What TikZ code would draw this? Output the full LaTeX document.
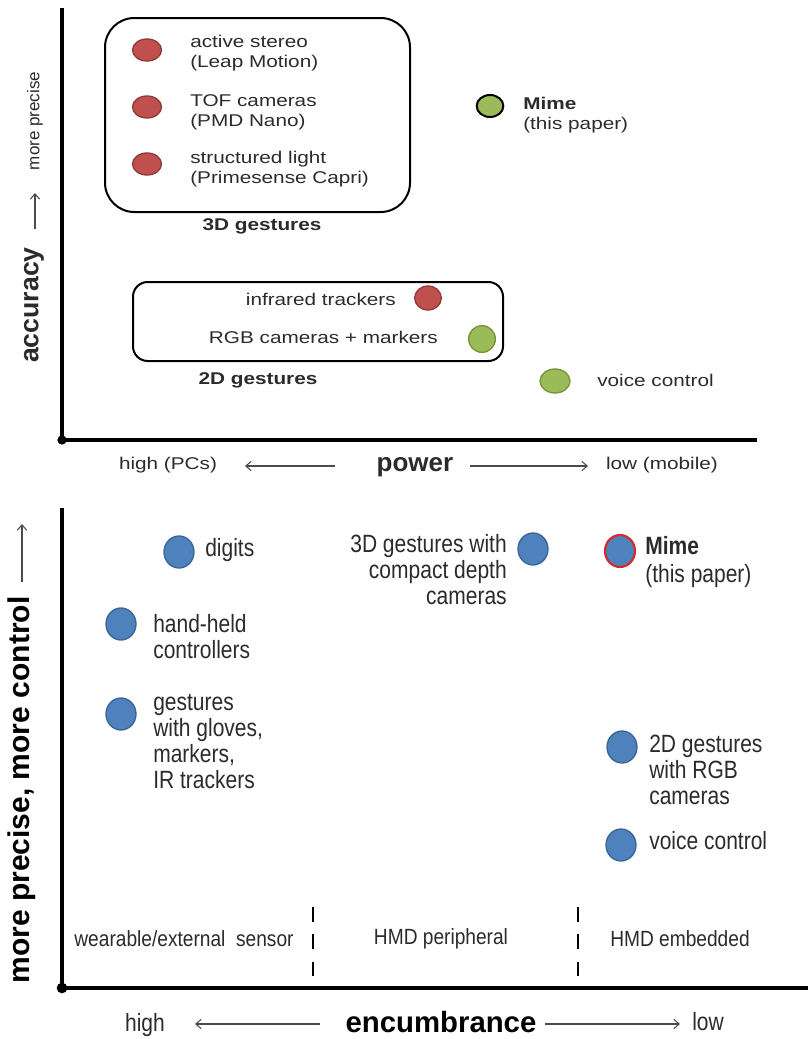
\documentclass[tikz,border=0pt]{standalone}
\usepackage{fontspec}
\setmainfont{Liberation Sans}
\newfontfamily\wideface[FakeStretch=1.22]{Liberation Sans}
\newfontfamily\narrowface[FakeStretch=0.84]{Liberation Sans}
\newfontfamily\zoneface[FakeStretch=0.87]{Liberation Sans}
\usetikzlibrary{shapes.geometric,arrows.meta}
\definecolor{dotred}{HTML}{C0504D}
\definecolor{dotredline}{HTML}{8E3B39}
\definecolor{dotgreen}{HTML}{9BBB59}
\definecolor{dotgreenline}{HTML}{76923C}
\definecolor{dotblue}{HTML}{4F81BD}
\definecolor{dotblueline}{HTML}{3A6595}
\definecolor{ink}{HTML}{2B2B2B}
\definecolor{mimered}{HTML}{D42A2A}
\begin{document}
\begin{tikzpicture}[x=0.75pt,y=-0.75pt,
  dot/.style={ellipse, inner sep=0pt, line width=1pt},
  reddot/.style={dot, fill=dotred, draw=dotredline},
  greendot/.style={dot, fill=dotgreen, draw=dotgreenline},
  bluedot/.style={dot, fill=dotblue, draw=dotblueline, minimum width=22.5pt, minimum height=24pt},
  toptext/.style={text=ink, inner sep=0pt, align=left, font=\wideface\fontsize{12.75}{15}\selectfont},
  bottext/.style={text=ink, inner sep=0pt, align=left, font=\narrowface\fontsize{18.75}{19.5}\selectfont},
  zonetext/.style={text=ink, inner sep=0pt, font=\zoneface\fontsize{16.5}{19}\selectfont},
  groupbox/.style={draw=black, line width=1.5pt},
  axis/.style={line width=2.3pt, black},
  hint/.style={draw=ink!85, line width=0.8pt, -{Straight Barb[length=4pt,width=7pt]}},
  zoneline/.style={line width=2.2pt, black, dash pattern=on 11pt off 9.5pt},
  axisdot/.style={circle, fill=black, inner sep=0pt, minimum size=7pt}
]
\useasboundingbox (0,0) rectangle (808,1039);

% ---------------- upper chart: accuracy vs. power ----------------
\coordinate (ttop) at (62,8);
\node[axisdot] (torig) at (62,440) {};
\coordinate (tright) at (757,440);
\draw[axis] (ttop) -- (torig.center) -- (tright);

\node[rotate=90, text=ink, inner sep=0pt, font=\fontsize{12.75}{15}\selectfont] (precise) at (35,121) {more precise};
\coordinate (accA) at (35,229);
\coordinate (accB) at (35,193);
\draw[hint] (accA) -- (accB);
\node[rotate=90, text=ink, inner sep=0pt, font=\bfseries\fontsize{20}{24}\selectfont] (accuracy) at (34,305) {accuracy};

% 3D gestures group
\draw[groupbox, rounded corners=22pt] (105,18) rectangle (410,212);
\node[reddot, minimum width=21.75pt, minimum height=16.5pt] (stereo) at (147,50) {};
\node[reddot, minimum width=21.75pt, minimum height=16.5pt] (tof) at (147,107) {};
\node[reddot, minimum width=21.75pt, minimum height=16.5pt] (struct) at (147,164) {};
\node[toptext, anchor=west] (stereoT) at (190,53) {active stereo\\(Leap Motion)};
\node[toptext, anchor=west] (tofT) at (190,112) {TOF cameras\\(PMD Nano)};
\node[toptext, anchor=west] (structT) at (190,169) {structured light\\(Primesense Capri)};
\node[toptext, font=\wideface\bfseries\fontsize{12.75}{15}\selectfont] (g3d) at (262,226) {3D gestures};

% Mime
\node[dot, fill=dotgreen, draw=black, line width=1.5pt, minimum width=20pt, minimum height=16.5pt] (mimeA) at (490,106) {};
\node[toptext, anchor=west] (mimeAT) at (523,115) {\textbf{Mime}\\(this paper)};

% 2D gestures group
\draw[groupbox, rounded corners=11pt] (133,282) rectangle (503,361);
\node[reddot, minimum width=20pt, minimum height=18pt] (ir) at (428,298) {};
\node[toptext, anchor=east] (irT) at (396,299) {infrared trackers};
\node[greendot, minimum width=20pt, minimum height=20pt] (rgb) at (482,339) {};
\node[toptext, anchor=east] (rgbT) at (438,337) {RGB cameras + markers};
\node[toptext, font=\wideface\bfseries\fontsize{12.75}{15}\selectfont] (g2d) at (258,380) {2D gestures};

% voice control
\node[greendot, minimum width=22.5pt, minimum height=18pt] (voiceA) at (555,381) {};
\node[toptext, anchor=west] (voiceAT) at (597,380) {voice control};

% power axis caption
\node[toptext] (hiPC) at (168,465) {high (PCs)};
\node[text=ink, inner sep=0pt, font=\bfseries\fontsize{19.5}{22}\selectfont] (power) at (415,467) {power};
\node[toptext] (loMob) at (662,465) {low (mobile)};
\coordinate (pl1) at (335,466);
\coordinate (pl2) at (245,466);
\coordinate (pr1) at (470,466);
\coordinate (pr2) at (588,466);
\draw[hint] (pl1) -- (pl2);
\draw[hint] (pr1) -- (pr2);

% ---------------- lower chart: control vs. encumbrance ----------------
\coordinate (btop) at (62,508);
\node[axisdot, minimum size=8pt] (borig) at (62,988) {};
\coordinate (bright) at (808,988);
\draw[axis, line width=2.8pt] (btop) -- (borig.center) -- (bright);

\node[rotate=90, text=black, inner sep=0pt, font=\bfseries\fontsize{22.5}{26}\selectfont] (control) at (22,790) {more precise, more control};
\coordinate (ctlA) at (22,582);
\coordinate (ctlB) at (22,524);
\draw[hint] (ctlA) -- (ctlB);

% zone separators
\coordinate (z1t) at (313,907);
\coordinate (z1b) at (313,981);
\coordinate (z2t) at (578,907);
\coordinate (z2b) at (578,981);
\draw[zoneline] (z1t) -- (z1b);
\draw[zoneline] (z2t) -- (z2b);
\node[zonetext] (zwear) at (184,939) {wearable/external\ \ sensor};
\node[zonetext] (zperi) at (441,939) {HMD peripheral};
\node[zonetext] (zemb) at (680,939) {HMD embedded};

% interaction techniques
\node[bluedot] (digits) at (179,552) {};
\node[bottext, anchor=west] (digitsT) at (205,550) {digits};

\node[bluedot] (depth) at (533,549) {};
\node[bottext, anchor=east, align=right] (depthT) at (507,570) {3D gestures with\\compact depth\\cameras};

\node[bluedot, draw=mimered, line width=1.6pt] (mimeB) at (620,551) {};
\node[bottext, anchor=west, font=\narrowface\fontsize{18.75}{21}\selectfont] (mimeBT) at (645,562) {\textbf{Mime}\\(this paper)};

\node[bluedot] (handheld) at (121,624) {};
\node[bottext, anchor=west] (handheldT) at (153,637) {hand-held\\controllers};

\node[bluedot] (gloves) at (121,714) {};
\node[bottext, anchor=west] (glovesT) at (153,742) {gestures\\with gloves,\\markers,\\IR trackers};

\node[bluedot] (rgbcam) at (622,747) {};
\node[bottext, anchor=west] (rgbcamT) at (649,770) {2D gestures\\with RGB\\cameras};

\node[bluedot] (voiceB) at (621,845) {};
\node[bottext, anchor=west] (voiceBT) at (649,841) {voice control};

% encumbrance axis caption
\node[bottext] (hiEnc) at (145,1025) {high};
\node[text=black, inner sep=0pt, font=\bfseries\fontsize{22}{26}\selectfont] (encumb) at (441,1022) {encumbrance};
\node[bottext] (loEnc) at (708,1022) {low};
\coordinate (el1) at (320,1024);
\coordinate (el2) at (195,1024);
\coordinate (er1) at (545,1024);
\coordinate (er2) at (680,1024);
\draw[hint] (el1) -- (el2);
\draw[hint] (er1) -- (er2);
\end{tikzpicture}
\end{document}
